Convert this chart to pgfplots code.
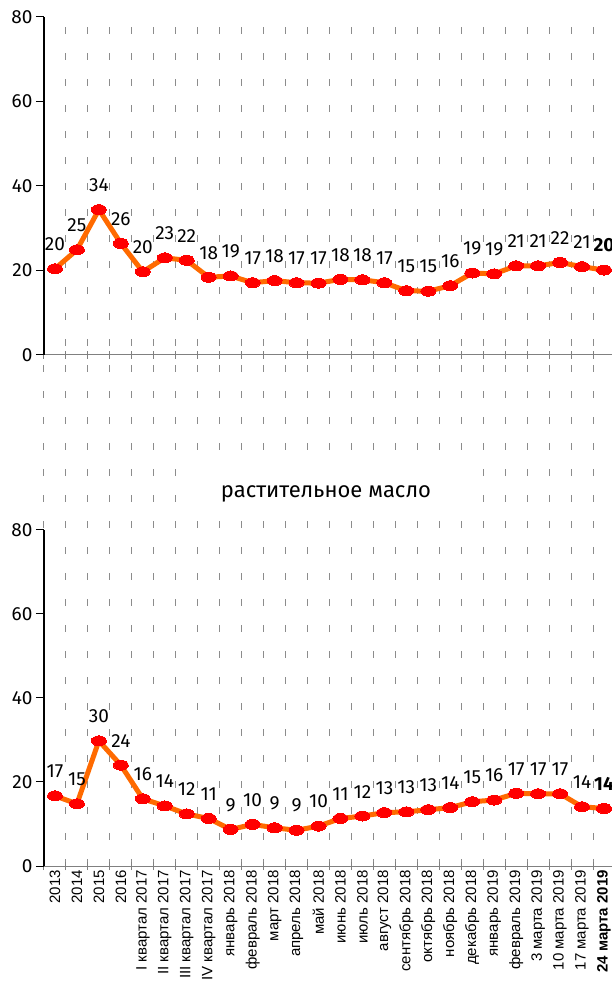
\documentclass[border=0pt]{standalone}
\usepackage{pgfplots}
\pgfplotsset{compat=1.18}
\usepackage{fontspec}
\setmainfont{Fira Sans}
\newfontfamily\lsans{Liberation Sans}
\definecolor{lineorange}{HTML}{FF6A00}
\definecolor{gridgray}{HTML}{8C8C8C}
\definecolor{axgray}{HTML}{808080}

\pgfplotsset{
 panel/.style={
  scale only axis, x=21.96pt, xmin=-0.5, xmax=25.5, ymin=0, ymax=80,
  axis lines*=left,
  x axis line style={axgray, line width=1pt},
  y axis line style={black, line width=1.2pt},
  ytick={0,20,...,80},
  yticklabel style={font=\fontsize{19}{22}\selectfont},
  /pgf/number format/assume math mode=true,
  tick align=outside,
  major tick length=8pt,
  ytick style={black, line width=1pt},
  xtick={-0.5,0.5,...,25.5},
  xticklabels={},
  xtick style={axgray, line width=1pt, yshift=4pt},
  clip=false,
  nodes near coords,
  point meta=explicit symbolic,
  every node near coord/.append style={font=\fontsize{19}{22}\selectfont, anchor=south, yshift=17pt, inner sep=1pt, text=black},
 },
 series/.style={lineorange, line width=5pt, mark=*, mark size=5pt, mark options={xscale=1.5, fill=red, draw=red, line width=0pt}}
}

\begin{document}
\begin{tikzpicture}
% background dashed grid spanning both panels
\begin{axis}[scale only axis, x=21.96pt, xmin=-0.5, xmax=25.5, ymin=0, ymax=1,
  height=849pt, at={(0,0)}, anchor=south west,
  axis line style={draw=none}, xtick={-0.5,0.5,...,25.5}, xticklabels={},
  ytick=\empty, major tick length=0pt, xmajorgrids,
  major grid style={gridgray, line width=1pt, dash pattern=on 7pt off 19pt}]
\end{axis}

\fill[white] (140pt,350pt) rectangle (432pt,398pt);
\node[font=\fontsize{22}{26}\selectfont, inner sep=0pt] at (282pt,372pt) {растительное масло};

% top panel
\begin{axis}[panel, y=4.225pt, at={(0,511pt)}, anchor=south west]
\addplot[series] coordinates {
(0,20.4) [20]
(1,24.9) [25]
(2,34.4) [34]
(3,26.4) [26]
(4,19.7) [20]
(5,23.0) [23]
(6,22.4) [22]
(7,18.4) [18]
(8,18.7) [19]
(9,17.1) [17]
(10,17.6) [18]
(11,17.1) [17]
(12,17.0) [17]
(13,17.9) [18]
(14,17.8) [18]
(15,17.1) [17]
(16,15.2) [15]
(17,15.1) [15]
(18,16.4) [16]
(19,19.4) [19]
(20,19.2) [19]
(21,21.1) [21]
(22,21.1) [21]
(23,21.9) [22]
(24,20.9) [21]
(25,20.1) [\textbf{20}]
};
\end{axis}

% bottom panel
\begin{axis}[panel, y=4.2pt, at={(0,0)}, anchor=south west,
  extra x ticks={0,...,25},
  extra x tick labels={2013,2014,2015,2016,I квартал 2017,II квартал 2017,III квартал 2017,IV квартал 2017,январь 2018,февраль 2018,март 2018,апрель 2018,май 2018,июнь 2018,июль 2018,август 2018,сентябрь 2018,октябрь 2018,ноябрь 2018,декабрь 2018,январь 2019,февраль 2019,3 марта 2019,10 марта 2019,17 марта 2019,\textbf{24 марта 2019}},
  extra x tick style={major tick length=0pt, xtick style={draw=none},
    xticklabel style={rotate=90, anchor=east, inner sep=4pt, font=\lsans\fontsize{15}{17}\selectfont}}]
\addplot[series] coordinates {
(0,16.7) [17]
(1,14.8) [15]
(2,29.8) [30]
(3,24.0) [24]
(4,16.0) [16]
(5,14.3) [14]
(6,12.4) [12]
(7,11.3) [11]
(8,8.7) [9]
(9,9.9) [10]
(10,9.1) [9]
(11,8.5) [9]
(12,9.5) [10]
(13,11.3) [11]
(14,11.9) [12]
(15,12.7) [13]
(16,12.9) [13]
(17,13.4) [13]
(18,13.9) [14]
(19,15.3) [15]
(20,15.7) [16]
(21,17.3) [17]
(22,17.2) [17]
(23,17.2) [17]
(24,14.1) [14]
(25,13.7) [\textbf{14}]
};
\end{axis}

\pgfresetboundingbox
\path[use as bounding box] (-44pt,-121pt) rectangle (567pt,866pt);
\end{tikzpicture}
\end{document}
